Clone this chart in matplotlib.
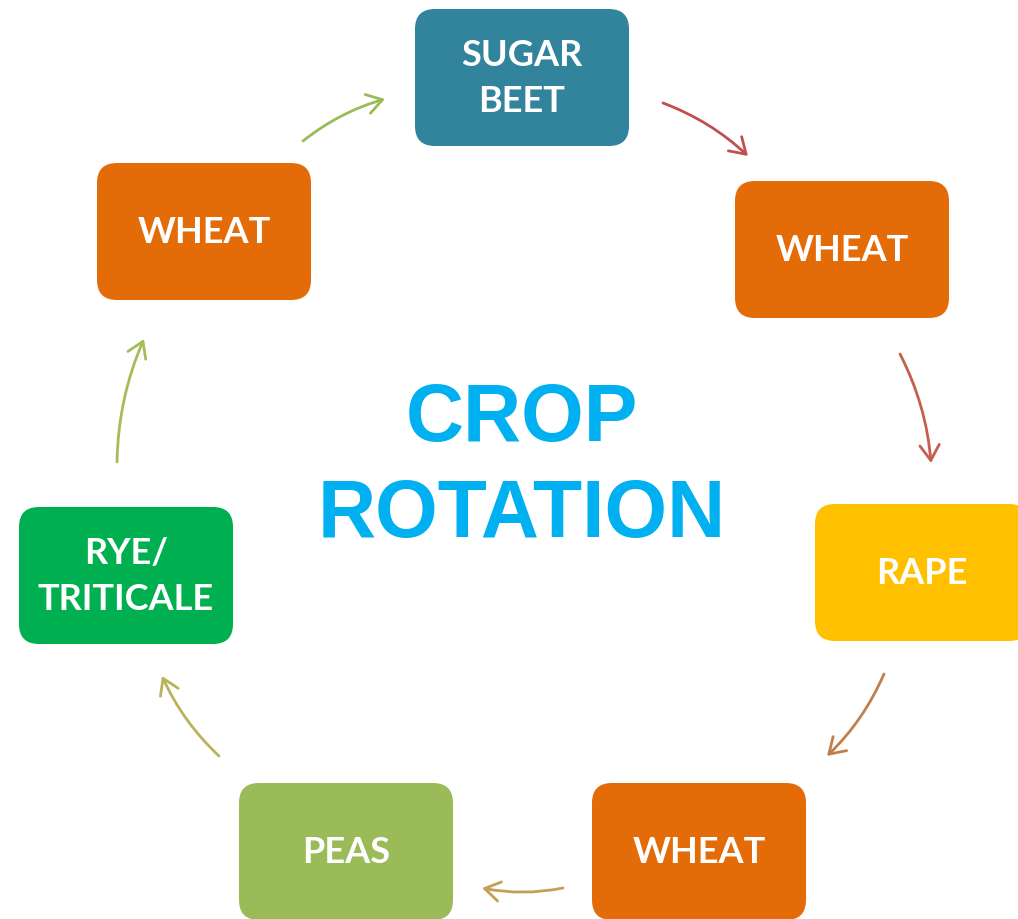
import matplotlib.pyplot as plt
from matplotlib.patches import FancyBboxPatch, FancyArrowPatch

# crop sequence, clockwise from the top
crops = ['SUGAR\nBEET', 'WHEAT', 'RAPE', 'WHEAT', 'PEAS', 'RYE/\nTRITICALE', 'WHEAT']
box_colors = ['#31849B', '#E36C09', '#FFC000', '#E36C09', '#9BBB59', '#00B050', '#E36C09']
arrow_colors = ['#C0504D', '#C4604D', '#C0804D', '#C4A056', '#B9B45A', '#A6BC55', '#9BBB59']

# layout (pixels, top-left of each box)
box_pos = [(415, 9), (735, 181), (815, 504), (592, 783), (239, 783), (19, 507), (97, 163)]
box_w, box_h = 214, 137
arrow_ends = [((663, 103), (748, 156)),
              ((900, 354), (931, 463)),
              ((884, 674), (827, 756)),
              ((563, 888), (482, 888)),
              ((219, 756), (162, 676)),
              ((117, 462), (144, 339)),
              ((303, 141), (385, 99))]


def draw():
    fig = plt.figure(figsize=(10.18, 9.19), dpi=100)
    ax = fig.add_axes([0, 0, 1, 1])
    ax.set_xlim(0, 1018)
    ax.set_ylim(919, 0)
    ax.axis('off')

    for (x, y), label, col in zip(box_pos, crops, box_colors):
        box = FancyBboxPatch((x, y), box_w, box_h,
                             boxstyle="round,pad=0,rounding_size=20",
                             facecolor=col, edgecolor='none')
        ax.add_patch(box)
        ax.text(x + box_w / 2, y + box_h / 2 + 1, label, ha='center', va='center',
                color='white', fontsize=26, fontweight='bold', family='Lato',
                linespacing=1.45)

    for (start, end), col in zip(arrow_ends, arrow_colors):
        arr = FancyArrowPatch(start, end,
                              arrowstyle='->,head_length=0.55,head_width=0.35',
                              connectionstyle='arc3,rad=-0.1',
                              mutation_scale=20, color=col, linewidth=2,
                              shrinkA=0, shrinkB=0)
        ax.add_patch(arr)

    ax.text(522, 420, 'CROP', ha='center', va='center', color='#00B0F0',
            fontsize=58, fontweight='bold', family='Liberation Sans')
    ax.text(522, 516, 'ROTATION', ha='center', va='center', color='#00B0F0',
            fontsize=58, fontweight='bold', family='Liberation Sans')

    fig.savefig('out.png', dpi=100)


if __name__ == "__main__":
    draw()
